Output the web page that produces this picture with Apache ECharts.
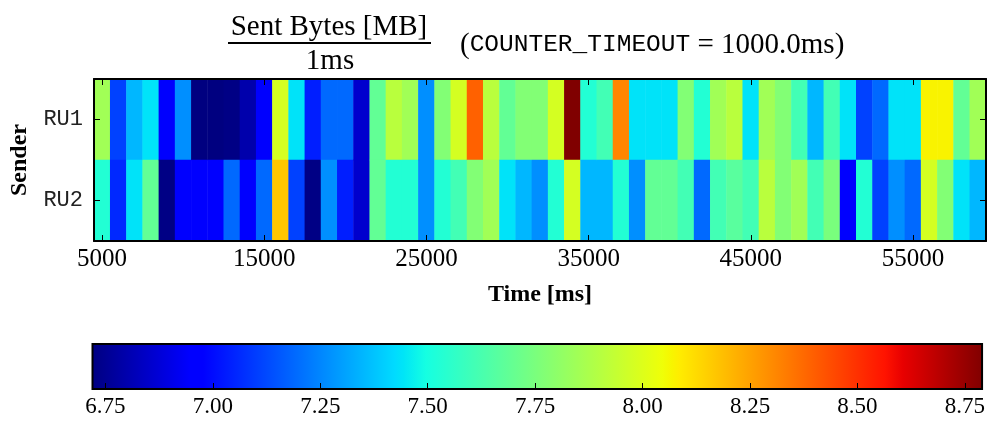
<!DOCTYPE html>
<html><head><meta charset="utf-8">
<script src="https://cdn.jsdelivr.net/npm/echarts@6/dist/echarts.min.js"></script>
<style>html,body{margin:0;padding:0;background:#fff}#c{width:988px;height:424px}</style>
</head><body><div id="c"></div>
<script>
// ---- data ----
const times = [5000,6000,7000,8000,9000,10000,11000,12000,13000,14000,15000,16000,17000,18000,19000,20000,21000,22000,23000,24000,25000,26000,27000,28000,29000,30000,31000,32000,33000,34000,35000,36000,37000,38000,39000,40000,41000,42000,43000,44000,45000,46000,47000,48000,49000,50000,51000,52000,53000,54000,55000,56000,57000,58000,59000];
const senders = ['RU1', 'RU2'];
const ru1 = [7.85,7.11,7.35,7.44,6.95,7.27,6.72,6.72,6.73,6.80,6.95,7.98,7.44,7.04,7.19,7.19,6.86,7.69,7.91,7.85,7.27,7.77,7.98,8.39,7.91,7.69,7.77,7.77,7.98,8.79,7.53,7.61,8.31,7.44,7.44,7.44,7.77,7.53,7.85,7.91,7.44,7.85,7.77,7.61,7.35,7.61,7.44,7.11,7.19,7.44,7.44,8.07,8.07,7.69,7.85];
const ru2 = [7.53,7.06,7.44,7.69,6.73,6.96,6.96,6.96,7.19,6.96,7.19,8.17,7.11,6.73,7.27,7.04,6.86,7.69,7.53,7.53,7.27,7.53,7.61,7.77,7.85,7.44,7.35,7.27,7.53,7.98,7.35,7.35,7.53,7.27,7.69,7.69,7.61,7.19,7.61,7.67,7.61,7.91,7.77,7.85,7.61,7.75,6.96,7.53,7.11,7.27,7.19,7.98,7.77,7.44,7.35];
const colorbarTicks = [6.75,7.00,7.25,7.50,7.75,8.00,8.25,8.50,8.75];
const vMin = 6.72, vMax = 8.79;

// ---- jet colormap (style) ----
const jetR = [[0,0],[0.35,0],[0.66,1],[0.89,1],[1,0.5]];
const jetG = [[0,0],[0.125,0],[0.375,1],[0.64,1],[0.91,0],[1,0]];
const jetB = [[0,0.5],[0.11,1],[0.34,1],[0.65,0],[1,0]];
function seg(t, s){ for(let i=1;i<s.length;i++){ if(t<=s[i][0]){ const a=s[i-1],b=s[i]; return a[1]+(b[1]-a[1])*(t-a[0])/(b[0]-a[0]); } } return s[s.length-1][1]; }
function jet(t){ const c=[seg(t,jetR),seg(t,jetG),seg(t,jetB)].map(v=>Math.round(v*255)); return 'rgb('+c.join(',')+')'; }
const jetColors = []; for(let i=0;i<=256;i++) jetColors.push(jet(i/256));
const breaks = [0,0.11,0.125,0.34,0.35,0.375,0.64,0.65,0.66,0.89,0.91,1];
const gradStops = breaks.map(t=>({offset:t, color:jet(t)}));

const heatData = [];
times.forEach((t,i)=>{ heatData.push([i,0,ru1[i]]); heatData.push([i,1,ru2[i]]); });

const serif = 'Liberation Serif', mono = 'Liberation Mono';
const lineStyle = {color:'#000', width:2};
const tickStyle = {show:true, inside:true, length:6, lineStyle:{color:'#000', width:1}};

const chart = echarts.init(document.getElementById('c'), null, {renderer:'canvas'});
chart.setOption({
  animation:false,
  backgroundColor:'#fff',
  grid:[
    {left:92.5, top:79, width:893.5, height:162},
    {left:92.5, top:344, width:892.5, height:45}
  ],
  xAxis:[
    {gridIndex:0, type:'category', data:times, position:'bottom', z:10,
     axisLine:{show:true, lineStyle:lineStyle},
     axisTick:Object.assign({interval:9, alignWithLabel:true}, tickStyle),
     axisLabel:{interval:9, fontFamily:serif, fontSize:25, color:'#000', margin:6},
     splitLine:{show:false},
     name:'Time [ms]', nameLocation:'middle', nameGap:42,
     nameTextStyle:{fontFamily:serif, fontWeight:'bold', fontSize:24, color:'#000'}},
    {gridIndex:0, type:'category', data:times, position:'top', z:10,
     axisLine:{show:true, lineStyle:lineStyle},
     axisTick:Object.assign({interval:9, alignWithLabel:true}, tickStyle),
     axisLabel:{show:false}, splitLine:{show:false}},
    {gridIndex:1, type:'value', min:vMin, max:vMax, z:10,
     axisLine:{show:false},
     axisTick:Object.assign({customValues:colorbarTicks}, tickStyle),
     axisLabel:{customValues:colorbarTicks, formatter:v=>v.toFixed(2), fontFamily:serif, fontSize:23, color:'#000', margin:6},
     splitLine:{show:false}}
  ],
  yAxis:[
    {gridIndex:0, type:'category', data:senders, inverse:true, position:'left', z:10,
     axisLine:{show:true, lineStyle:lineStyle},
     axisTick:Object.assign({alignWithLabel:true, interval:0}, tickStyle),
     axisLabel:{fontFamily:mono, fontSize:22, color:'#222', margin:11},
     splitLine:{show:false},
     name:'Sender', nameLocation:'middle', nameGap:62, nameRotate:90,
     nameTextStyle:{fontFamily:serif, fontWeight:'bold', fontSize:24, color:'#000'}},
    {gridIndex:0, type:'category', data:senders, inverse:true, position:'right', z:10,
     axisLine:{show:true, lineStyle:lineStyle},
     axisTick:Object.assign({alignWithLabel:true, interval:0}, tickStyle),
     axisLabel:{show:false}, splitLine:{show:false}},
    {gridIndex:1, type:'value', min:0, max:1, show:false}
  ],
  visualMap:{type:'continuous', show:false, min:vMin, max:vMax, seriesIndex:0, dimension:2,
    inRange:{color:jetColors}},
  series:[
    {type:'heatmap', xAxisIndex:0, yAxisIndex:0, data:heatData, emphasis:{disabled:true}, silent:true},
    {type:'custom', xAxisIndex:2, yAxisIndex:2, data:[[vMin, vMax]], encode:{x:[0,1]}, silent:true, z:1,
     renderItem:function(params, api){
       const p0 = api.coord([api.value(0), 0]);
       const p1 = api.coord([api.value(1), 1]);
       return {type:'rect', shape:{x:p0[0], y:p1[1], width:p1[0]-p0[0], height:p0[1]-p1[1]},
         style:{fill:new echarts.graphic.LinearGradient(0,0,1,0,gradStops), stroke:'#000', lineWidth:2}};
     }}
  ],
  graphic:[
    {type:'text', x:329, y:27, style:{text:'Sent Bytes [MB]', font:'29px "Liberation Serif"', fill:'#000', align:'center', verticalAlign:'middle'}},
    {type:'line', shape:{x1:228, y1:43, x2:431, y2:43}, style:{stroke:'#000', lineWidth:2}},
    {type:'text', x:330, y:61, style:{text:'1ms', font:'29px "Liberation Serif"', fill:'#000', align:'center', verticalAlign:'middle'}},
    {type:'text', x:460, y:45, style:{text:'{s|(}{m|COUNTER_TIMEOUT}{s| = 1000.0ms)}', align:'left', verticalAlign:'middle',
      rich:{s:{fontFamily:serif, fontSize:29, fill:'#000', color:'#000'}, m:{fontFamily:mono, fontSize:24.5, fill:'#000', color:'#000'}}}}
  ]
});
</script></body></html>
